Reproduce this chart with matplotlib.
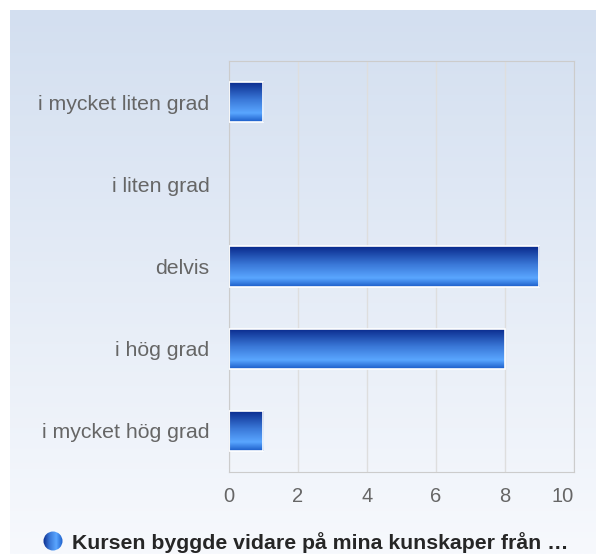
import numpy as np
import matplotlib
matplotlib.use('Agg')
import matplotlib.pyplot as plt
from matplotlib.colors import LinearSegmentedColormap

# Data
categories = ['i mycket liten grad', 'i liten grad', 'delvis', 'i hög grad', 'i mycket hög grad']
values = [1, 0, 9, 8, 1]
series_name = 'Kursen byggde vidare på mina kunskaper från …'
x_ticks = [0, 2, 4, 6, 8, 10]

W, H = 596, 554
fig = plt.figure(figsize=(W / 100, H / 100), dpi=100)
fig.patch.set_facecolor('white')

# panel background gradient
bg = fig.add_axes([10 / W, 0, 586 / W, 544 / H])
bg_cmap = LinearSegmentedColormap.from_list('bg', ['#d3dff0', '#f7f9fd'])
bg.imshow(np.linspace(0, 1, 256).reshape(-1, 1), aspect='auto', cmap=bg_cmap,
          extent=[0, 1, 0, 1])
bg.axis('off')

# plot area
ax = fig.add_axes([229 / W, (H - 472) / H, (574 - 229) / W, (472 - 61) / H])
ax.patch.set_alpha(0)
ypos = np.arange(len(categories))
bars = ax.barh(ypos, values, height=0.49, color='none', edgecolor='white',
               linewidth=1.2, zorder=3)

bar_cmap = LinearSegmentedColormap.from_list(
    'bar', [(0, '#08288a'), (0.45, '#3a78d8'), (0.78, '#5aa6ff'), (1, '#1a5cc8')])
grad = np.linspace(0, 1, 256).reshape(-1, 1)
for b in bars:
    if b.get_width() <= 0:
        b.set_visible(False)
        continue
    x0, y0 = b.get_x(), b.get_y()
    w, h = b.get_width(), b.get_height()
    im = ax.imshow(grad, aspect='auto', cmap=bar_cmap,
                   extent=[x0, x0 + w, y0 + h, y0], zorder=2)
    im.set_clip_path(b)
ax.set_xlim(0, 10)
ax.set_ylim(len(categories) - 0.5, -0.5)

ax.set_yticks(ypos)
ax.set_yticklabels(categories, fontsize=15.3, color='#666666', family='Liberation Sans')
ax.set_xticks(x_ticks)
xl = ax.set_xticklabels([str(t) for t in x_ticks], fontsize=14.5, color='#666666',
                        family='Liberation Sans')
xl[-1].set_horizontalalignment('right')
ax.tick_params(axis='both', length=0)
ax.tick_params(axis='y', pad=14)
ax.tick_params(axis='x', pad=11)
ax.grid(axis='x', color='#dedede', linewidth=1, zorder=0)
ax.set_axisbelow(True)
for s in ax.spines.values():
    s.set_color('#cccccc')

# legend
fig.text(72 / W, 1 - 543 / H, series_name, fontsize=15.3, fontweight='bold',
         color='#262626', va='center', family='Liberation Sans')
lg = fig.add_axes([43 / W, 1 - 551 / H, 20 / W, 20 / H])
lg.set_xlim(-1, 1)
lg.set_ylim(-1, 1)
lg.set_aspect('equal')
lg.axis('off')
circ = plt.Circle((0, 0), 0.95, transform=lg.transData)
leg_cmap = LinearSegmentedColormap.from_list('leg', ['#0a2a8a', '#3a78d8', '#5aa6ff', '#1a5cc8'])
im = lg.imshow(np.linspace(0, 1, 256).reshape(1, -1), aspect='auto', cmap=leg_cmap,
               extent=[-1, 1, -1, 1])
im.set_clip_path(circ)

fig.savefig('out.png', dpi=100)
